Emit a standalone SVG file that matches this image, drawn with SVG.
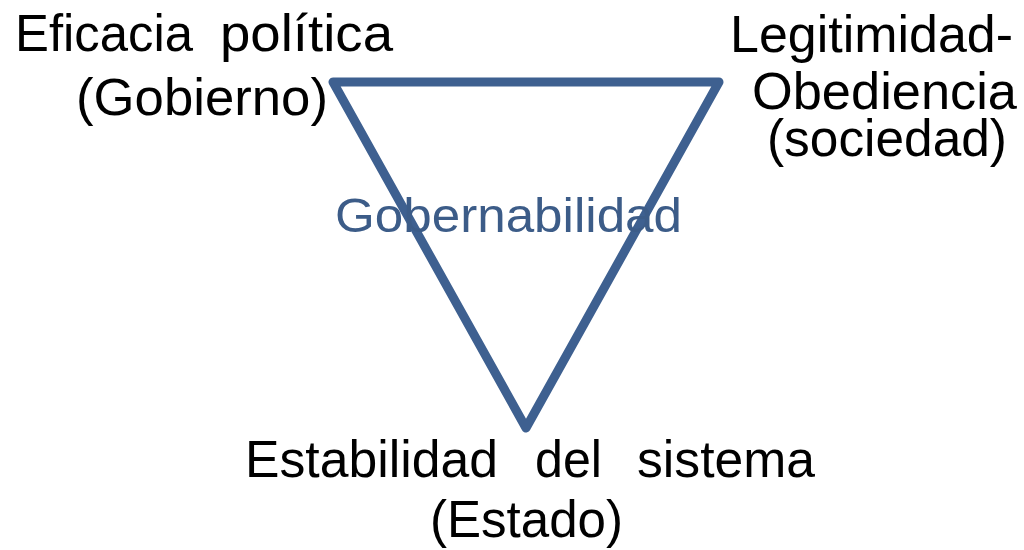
<svg xmlns="http://www.w3.org/2000/svg" width="1024" height="550" viewBox="0 0 1024 550">
<style>
.lbl{font-family:"Liberation Sans",Arial,sans-serif;font-size:52px;fill:#000}
.mid{font-family:"Liberation Sans",Arial,sans-serif;font-size:48px;fill:#3c5c88}
.tri{fill:none;stroke:#3e6090;stroke-width:9;stroke-linejoin:round}
</style>
<rect width="1024" height="550" fill="#fff"/>
<g id="connectors">
<polygon class="tri" points="333,82 719,82 526,428"/>
</g>
<g id="center">
<text class="mid" x="335" y="232" textLength="347" lengthAdjust="spacingAndGlyphs">Gobernabilidad</text>
</g>
<g id="eficacia">
<text class="lbl" x="15" y="51" textLength="178" lengthAdjust="spacingAndGlyphs">Eficacia</text>
<text class="lbl" x="220" y="51" textLength="173" lengthAdjust="spacingAndGlyphs">política</text>
<text class="lbl" x="76" y="115" textLength="252" lengthAdjust="spacingAndGlyphs">(Gobierno)</text>
</g>
<g id="legitimidad">
<text class="lbl" x="730" y="52" textLength="283" lengthAdjust="spacingAndGlyphs">Legitimidad-</text>
<text class="lbl" x="752" y="109" textLength="265" lengthAdjust="spacingAndGlyphs">Obediencia</text>
<text class="lbl" x="767" y="156" textLength="240" lengthAdjust="spacingAndGlyphs">(sociedad)</text>
</g>
<g id="estabilidad">
<text class="lbl" x="245" y="477" textLength="253" lengthAdjust="spacingAndGlyphs">Estabilidad</text>
<text class="lbl" x="535" y="477" textLength="67" lengthAdjust="spacingAndGlyphs">del</text>
<text class="lbl" x="637" y="477" textLength="178" lengthAdjust="spacingAndGlyphs">sistema</text>
<text class="lbl" x="430" y="537" textLength="193" lengthAdjust="spacingAndGlyphs">(Estado)</text>
</g>
</svg>
